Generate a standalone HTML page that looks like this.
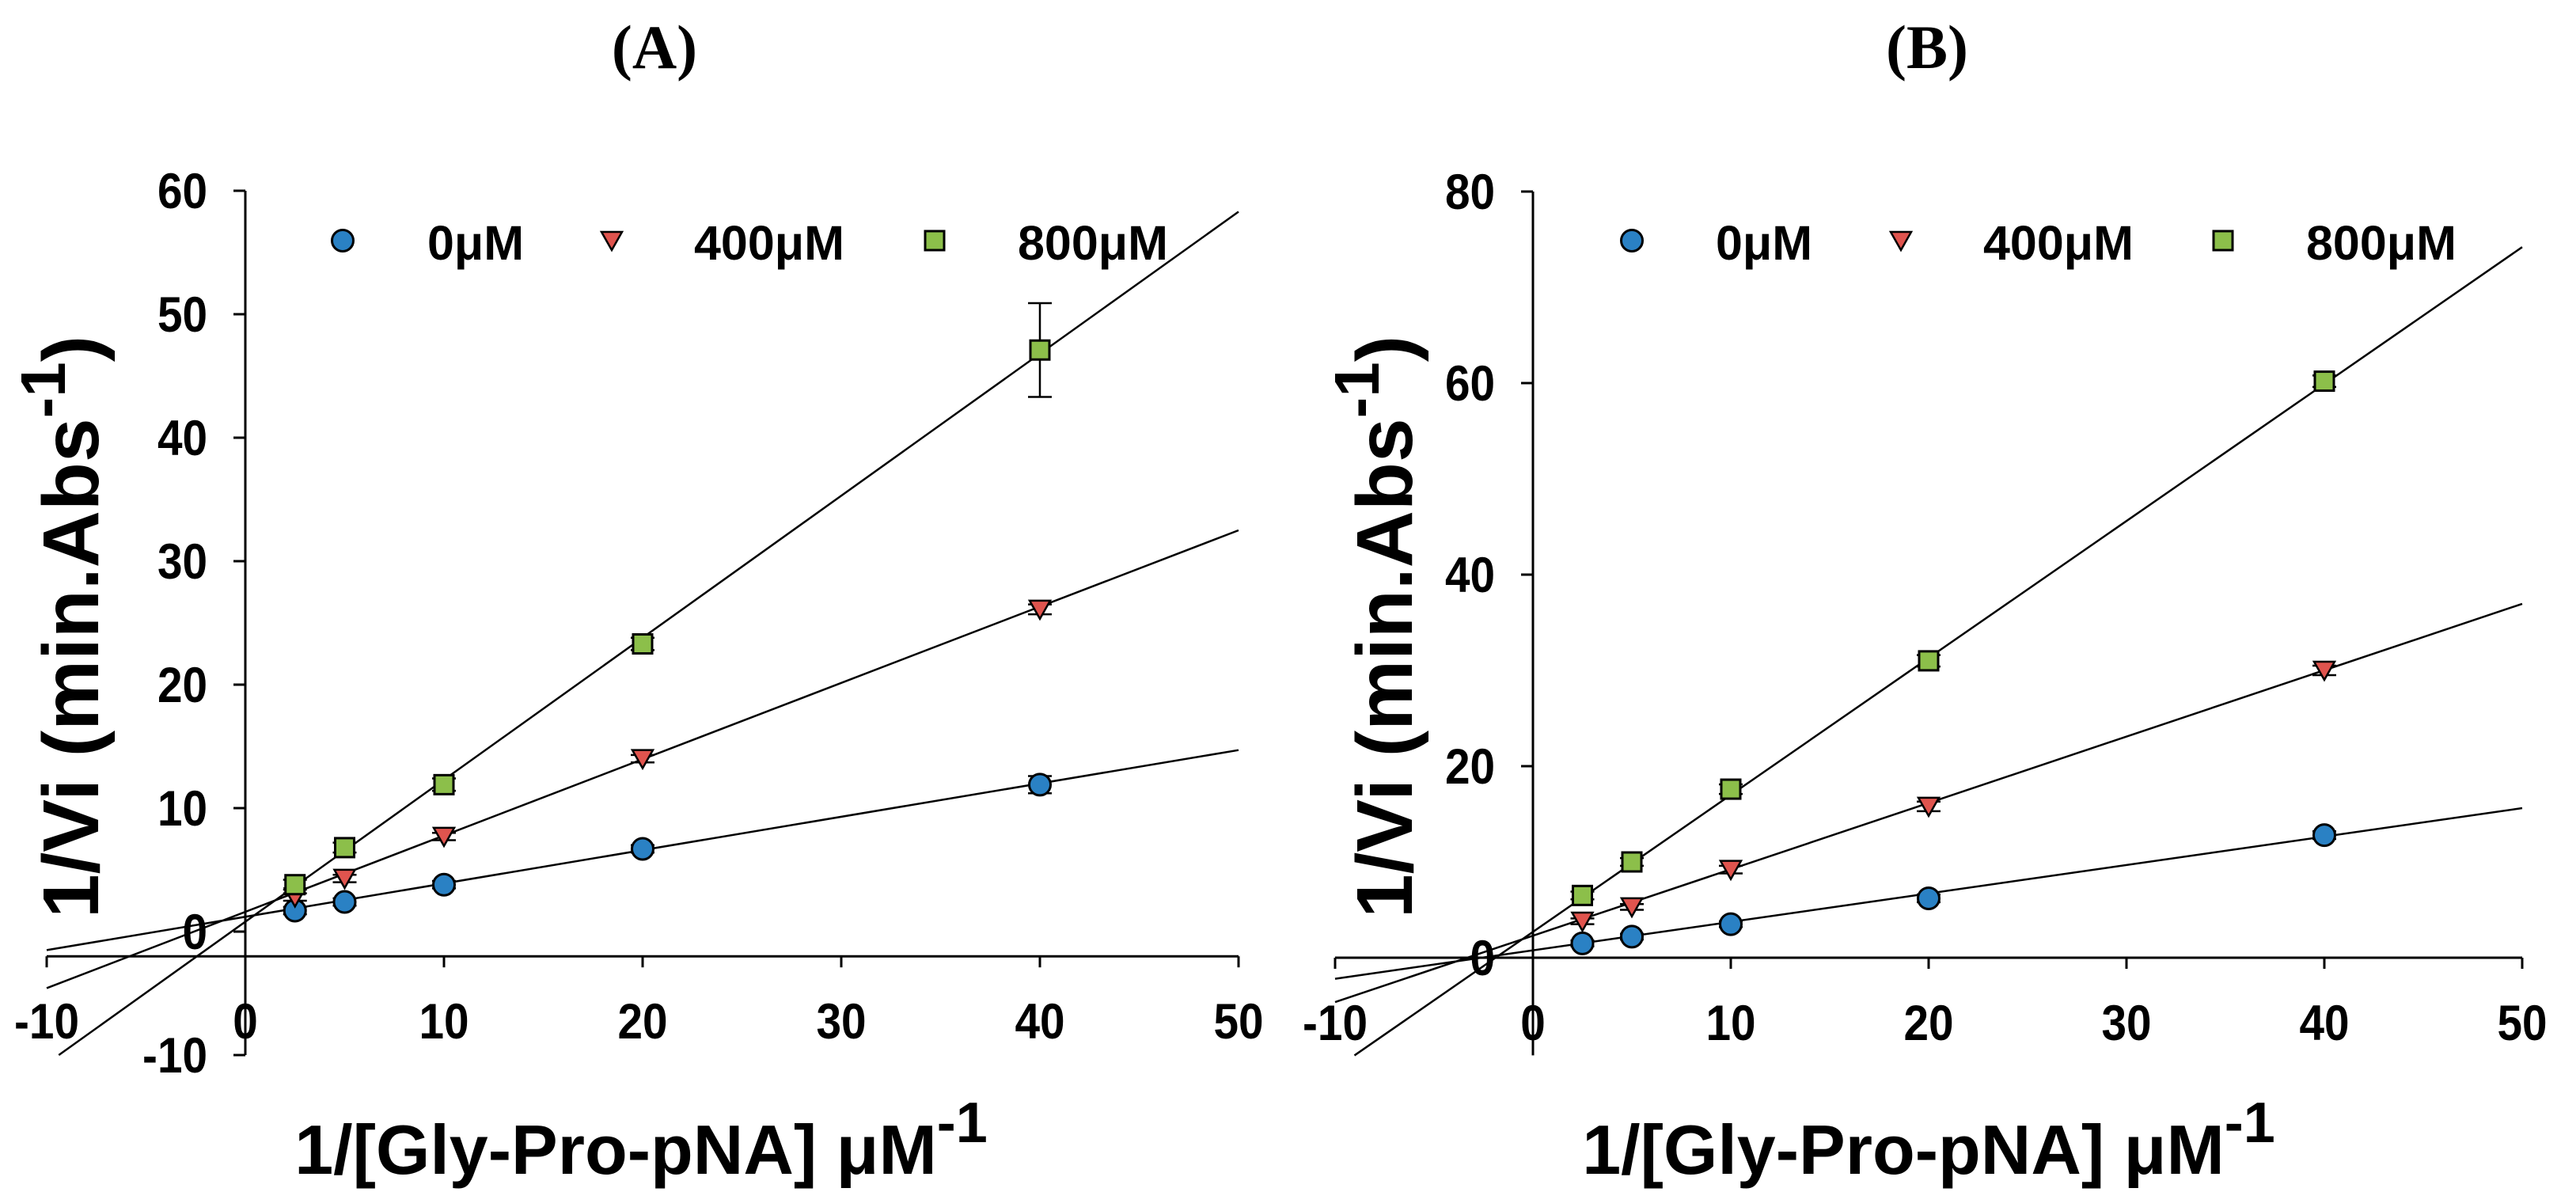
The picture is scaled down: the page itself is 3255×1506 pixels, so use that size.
<!DOCTYPE html>
<html><head><meta charset="utf-8"><style>
html,body{margin:0;padding:0;background:#fff;}
svg{display:block;}
text{font-family:"Liberation Sans",Arial,sans-serif;font-weight:bold;fill:#000;}
</style></head><body>
<svg id="fig" width="3255" height="1506" viewBox="0 0 3255 1506" xmlns="http://www.w3.org/2000/svg">
<text x="827" y="86" text-anchor="middle" style="font-family:'Liberation Serif',serif;font-size:78px">(A)</text>
<text x="2435" y="86" text-anchor="middle" style="font-family:'Liberation Serif',serif;font-size:78px">(B)</text>
<g id="pa"></g>
<g id="pb"></g>
</svg>
<script>
// shared data
const xVals = [2.5, 5, 10, 20, 40];
const seriesNames = ["0μM", "400μM", "800μM"];
const xTicks = [-10, 0, 10, 20, 30, 40, 50];
// Panel A
const aY0 = [1.7, 2.4, 3.8, 6.7, 11.9];
const aY400 = [2.8, 4.3, 7.7, 14.0, 26.1];
const aY800 = [3.8, 6.8, 11.9, 23.3, 47.1];
const aErr0 = [0.3, 0.3, 0.3, 0.3, 0.7];
const aErr400 = [0.3, 0.3, 0.3, 0.3, 0.4];
const aErr800 = [0.4, 0.4, 0.5, 0.5, 3.8];
const aSlopes = [0.27, 0.618, 1.15];
const aIntercepts = [1.2, 1.6, 0.8];
const aYTicks = [-10, 0, 10, 20, 30, 40, 50, 60];
// Panel B
const bY0 = [1.5, 2.2, 3.5, 6.2, 12.8];
const bY400 = [3.8, 5.3, 9.2, 15.8, 30.0];
const bY800 = [6.5, 10.0, 17.6, 31.0, 60.2];
const bErr0 = [0.3, 0.3, 0.3, 0.4, 0.4];
const bErr400 = [0.3, 0.3, 0.4, 0.5, 0.5];
const bErr800 = [0.4, 0.4, 0.5, 0.6, 0.6];
const bSlopes = [0.297, 0.693, 1.43];
const bIntercepts = [0.77, 2.3, 2.7];
const bYTicks = [0, 20, 40, 60, 80];

const NS = "http://www.w3.org/2000/svg";
const colors = ["#2a81c4", "#e0544e", "#8cbf4a"];
function mk(parent, tag, attrs) {
  const e = document.createElementNS(NS, tag);
  for (const k in attrs) e.setAttribute(k, attrs[k]);
  parent.appendChild(e);
  return e;
}
function drawMarker(g, type, cx, cy, color) {
  let m;
  if (type === 0) m = mk(g, "circle", {cx: cx, cy: cy, r: 13.5, fill: color, stroke: "#000", "stroke-width": 3});
  else if (type === 1) m = mk(g, "polygon", {points: (cx-13)+","+(cy-11)+" "+(cx+13)+","+(cy-11)+" "+cx+","+(cy+12), fill: color, stroke: "#000", "stroke-width": 2.5});
  else m = mk(g, "rect", {x: cx-12, y: cy-12, width: 24, height: 24, fill: color, stroke: "#000", "stroke-width": 3});
  return m;
}
function drawPanel(cfg) {
  const g = document.getElementById(cfg.id);
  const sx = v => cfg.x0 + (v - 0) * cfg.xs;
  const sy = v => cfg.y0 - v * cfg.ys;
  const yAxis = mk(g, "line", {x1: sx(0), y1: sy(cfg.yMax), x2: sx(0), y2: sy(cfg.yMin), stroke: "#000", "stroke-width": 3});
  
  
  const xAxis = mk(g, "line", {x1: sx(-10), y1: sy(cfg.xAxisAt), x2: sx(50), y2: sy(cfg.xAxisAt), stroke: "#000", "stroke-width": 3});
  
  
  cfg.yTicks.forEach(t => {
    const tk = mk(g, "line", {x1: sx(0)-15, y1: sy(t), x2: sx(0), y2: sy(t), stroke: "#000", "stroke-width": 3});
    
    
    const tl = mk(g, "text", {x: 0, y: 0, "text-anchor": "end", "font-size": 63, transform: "translate(" + (sx(0)-48) + "," + (sy(t)+22) + ") scale(0.9,1)"});
    tl.textContent = t;
    
    
  });
  xTicks.forEach(t => {
    const tk = mk(g, "line", {x1: sx(t), y1: sy(cfg.xAxisAt), x2: sx(t), y2: sy(cfg.xAxisAt)+14, stroke: "#000", "stroke-width": 3});
    
    
    const tl = mk(g, "text", {x: 0, y: 0, "text-anchor": "middle", "font-size": 63, transform: "translate(" + sx(t) + "," + (sy(cfg.xAxisAt)+104) + ") scale(0.9,1)"});
    tl.textContent = t;
    
    
  });
  for (let i = 0; i < 3; i++) {
    let xs = -10, ys = cfg.intercepts[i] + cfg.slopes[i] * xs;
    if (ys < cfg.yMin) { ys = cfg.yMin; xs = (cfg.yMin - cfg.intercepts[i]) / cfg.slopes[i]; }
    const ln = mk(g, "line", {x1: sx(xs), y1: sy(ys), x2: sx(50), y2: sy(cfg.intercepts[i] + cfg.slopes[i]*50), stroke: "#000", "stroke-width": 2.5});
    
    
  }
  for (let i = 0; i < 3; i++) {
    const ys = cfg.series[i], es = cfg.errs[i];
    xVals.forEach((xv, j) => {
      const cx = sx(xv), top = sy(ys[j] + es[j]), bot = sy(ys[j] - es[j]);
      const eb = mk(g, "path", {d: "M"+cx+","+top+"V"+bot+"M"+(cx-15)+","+top+"h30M"+(cx-15)+","+bot+"h30", stroke: "#000", "stroke-width": 2.5, fill: "none"});
      
      
      const m = drawMarker(g, i, cx, sy(ys[j]), colors[i]);
      
      
    });
  }
  for (let i = 0; i < 3; i++) {
    const lm = drawMarker(g, i, cfg.legMarkX[i], 304, colors[i]);
    
    
    const lt = mk(g, "text", {x: cfg.legTextX[i], y: 328, "font-size": 61});
    lt.textContent = seriesNames[i];
    
    
  }
  const xt = mk(g, "text", {x: cfg.x0 + 500, y: 1483, "text-anchor": "middle", "font-size": 88});
  xt.innerHTML = '1/[Gly-Pro-pNA] μM<tspan dy="-40" font-size="72">-1</tspan>';
  
  
  const yt = mk(g, "text", {x: 0, y: 0, "text-anchor": "middle", "font-size": 100, transform: "translate(" + cfg.yTitleX + ",792) rotate(-90)"});
  yt.innerHTML = '1/Vi (min.Abs<tspan dy="-42" font-size="80">-1</tspan><tspan dy="42">)</tspan>';
  
  
}
drawPanel({id: "pa", x0: 310, xs: 25.1, y0: 1177, ys: 15.6, yMin: -10, yMax: 60, xAxisAt: -2,
  yTicks: aYTicks, series: [aY0, aY400, aY800], errs: [aErr0, aErr400, aErr800],
  slopes: aSlopes, intercepts: aIntercepts,
  legMarkX: [433, 773, 1181], legTextX: [540, 877, 1286], yTitleX: 124});
drawPanel({id: "pb", x0: 1937, xs: 25.0, y0: 1210, ys: 12.1, yMin: -10.2, yMax: 80, xAxisAt: 0,
  yTicks: bYTicks, series: [bY0, bY400, bY800], errs: [bErr0, bErr400, bErr800],
  slopes: bSlopes, intercepts: bIntercepts,
  legMarkX: [2062, 2402, 2809], legTextX: [2168, 2506, 2914], yTitleX: 1784});
</script>
</body></html>
